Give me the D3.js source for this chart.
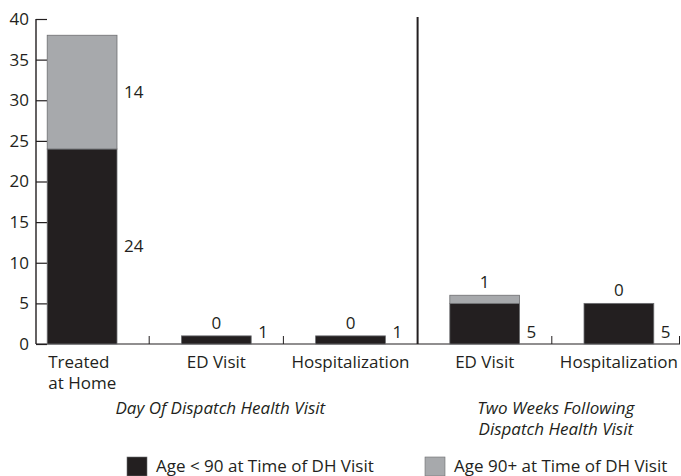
<!DOCTYPE html>
<html>
<head>
<meta charset="utf-8">
<script src="https://cdn.jsdelivr.net/npm/d3@7"></script>
<style>
  body { margin: 0; background: #fff; }
  text { font-family: "Open Sans", "Noto Sans", sans-serif; fill: #231f20; }
</style>
</head>
<body>
<div id="chart"></div>
<script>
// categories (one line per array entry, multi-line labels split)
var categoryLabels = [["Treated", "at Home"], ["ED Visit"], ["Hospitalization"], ["ED Visit"], ["Hospitalization"]];
// counts per age group
var under90 = [24, 1, 1, 5, 5];
var over90 = [14, 0, 0, 1, 0];
// group captions under the axis
var groupLabels = [["Day Of Dispatch Health Visit"], ["Two Weeks Following", "Dispatch Health Visit"]];
var groupMembers = [[0, 1, 2], [3, 4]];
var seriesNames = ["Age < 90 at Time of DH Visit", "Age 90+ at Time of DH Visit"];
var yTicks = [0, 5, 10, 15, 20, 25, 30, 35, 40];

function init() {
    var w = 681, h = 476;
    var fs = 17;
    var black = "#231f20", grey = "#a7a9ac", edge = "#6d6e71";

    var svg = d3.select("#chart").append("svg")
        .attr("width", w)
        .attr("height", h);

    var y = d3.scaleLinear().domain([0, 40]).range([344, 19]);
    var x = d3.scaleBand()
        .domain(d3.range(categoryLabels.length))
        .range([15, 686])
        .paddingInner(0.48)
        .paddingOuter(0.24);
    var axisX = 36;

    // y axis with ticks pointing inwards
    var yAxis = svg.append("g")
        .attr("transform", "translate(" + axisX + ",0)")
        .call(d3.axisRight(y).tickValues(yTicks).tickSize(11).tickFormat(d3.format("d")));
    yAxis.select(".domain").remove();
    yAxis.selectAll(".tick line").attr("stroke", black).attr("stroke-width", 1.2);
    yAxis.selectAll(".tick text")
        .attr("x", -7)
        .attr("text-anchor", "end")
        .attr("font-size", fs)
        .attr("font-family", null)
        .attr("fill", black);
    svg.append("line")
        .attr("x1", axisX).attr("x2", axisX)
        .attr("y1", y(40)).attr("y2", y(0))
        .attr("stroke", black).attr("stroke-width", 1.4);

    // baseline
    svg.append("line")
        .attr("x1", axisX).attr("x2", w - 1)
        .attr("y1", y(0)).attr("y2", y(0))
        .attr("stroke", black).attr("stroke-width", 1.2);

    // small ticks between categories (the group break gets a tall divider instead)
    var half = (x.step() - x.bandwidth()) / 2;
    var boundaries = d3.range(1, categoryLabels.length + 1).map(function(i) {
        return Math.min(x(i - 1) + x.bandwidth() + half, w - 1.5);
    });
    var breakIndex = groupMembers[0].length - 1;
    svg.selectAll(".xtick")
        .data(boundaries.filter(function(b, i) { return i !== breakIndex; }))
        .enter().append("line")
        .attr("x1", function(d) { return d; }).attr("x2", function(d) { return d; })
        .attr("y1", y(0) - 8).attr("y2", y(0))
        .attr("stroke", black).attr("stroke-width", 1);
    svg.append("line")
        .attr("x1", boundaries[breakIndex]).attr("x2", boundaries[breakIndex])
        .attr("y1", 17).attr("y2", y(0))
        .attr("stroke", black).attr("stroke-width", 2);

    // stacked bars
    var rows = d3.range(categoryLabels.length).map(function(i) {
        return { i: i, a: under90[i], b: over90[i] };
    });
    var bars = svg.selectAll(".bar").data(rows).enter().append("g");
    bars.append("rect")
        .attr("x", function(d) { return x(d.i); })
        .attr("width", x.bandwidth())
        .attr("y", function(d) { return y(d.a); })
        .attr("height", function(d) { return y(0) - y(d.a); })
        .attr("fill", black)
        .attr("stroke", edge).attr("stroke-width", 0.8);
    bars.filter(function(d) { return d.b > 0; }).append("rect")
        .attr("x", function(d) { return x(d.i); })
        .attr("width", x.bandwidth())
        .attr("y", function(d) { return y(d.a + d.b); })
        .attr("height", function(d) { return y(d.a) - y(d.a + d.b); })
        .attr("fill", grey)
        .attr("stroke", edge).attr("stroke-width", 0.8);

    // value labels: under-90 count to the right, over-90 to the right if big else on top
    bars.append("text")
        .attr("x", function(d) { return x(d.i) + x.bandwidth() + 7; })
        .attr("y", function(d) { return d.a >= 10 ? y(d.a / 2) : y(1.5); })
        .attr("dy", "0.35em")
        .attr("font-size", fs)
        .text(function(d) { return d.a; });
    bars.append("text")
        .attr("x", function(d) { return d.b >= 5 ? x(d.i) + x.bandwidth() + 7 : x(d.i) + x.bandwidth() / 2; })
        .attr("y", function(d) { return d.b >= 5 ? y(d.a + d.b / 2) : y(d.a + d.b) - 13; })
        .attr("dy", "0.35em")
        .attr("text-anchor", function(d) { return d.b >= 5 ? "start" : "middle"; })
        .attr("font-size", fs)
        .text(function(d) { return d.b; });

    // category labels
    svg.selectAll(".cat").data(rows).enter().append("text")
        .attr("font-size", fs)
        .attr("text-anchor", function(d) { return categoryLabels[d.i].length > 1 ? "start" : "middle"; })
        .attr("transform", function(d) {
            var px = categoryLabels[d.i].length > 1 ? x(d.i) + 1 : x(d.i) + x.bandwidth() / 2;
            return "translate(" + px + ",368)";
        })
        .selectAll("tspan")
        .data(function(d) { return categoryLabels[d.i]; })
        .enter().append("tspan")
        .attr("x", 0)
        .attr("dy", function(d, k) { return k === 0 ? 0 : 21; })
        .text(function(d) { return d; });

    // group captions
    svg.selectAll(".grp").data(groupLabels).enter().append("text")
        .attr("font-size", fs)
        .attr("font-style", "italic")
        .attr("text-anchor", "middle")
        .attr("transform", function(d, g) {
            var m = groupMembers[g];
            var cx = (x(m[0]) + x(m[m.length - 1]) + x.bandwidth()) / 2 + 4;
            return "translate(" + cx + ",414)";
        })
        .selectAll("tspan")
        .data(function(d) { return d; })
        .enter().append("tspan")
        .attr("x", 0)
        .attr("dy", function(d, k) { return k === 0 ? 0 : 21; })
        .text(function(d) { return d; });

    // legend
    var legendX = [127, 425];
    var legend = svg.selectAll(".leg").data(seriesNames).enter().append("g")
        .attr("transform", function(d, i) { return "translate(" + legendX[i] + ",457)"; });
    legend.append("rect")
        .attr("width", 20).attr("height", 19)
        .attr("fill", function(d, i) { return i === 0 ? black : grey; })
        .attr("stroke", edge).attr("stroke-width", 0.6);
    legend.append("text")
        .attr("x", 29).attr("y", 15)
        .attr("font-size", fs)
        .text(function(d) { return d; });
}

window.onload = init;
</script>
</body>
</html>
